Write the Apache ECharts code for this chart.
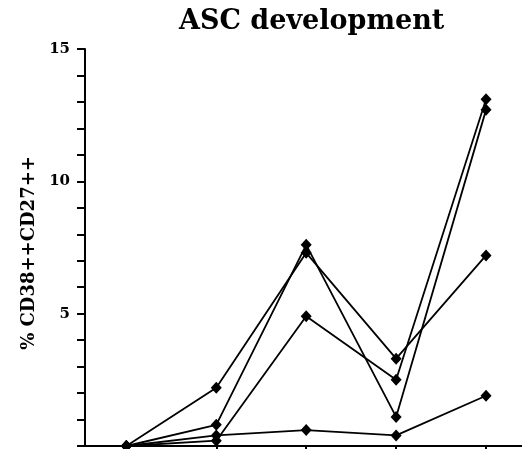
<!DOCTYPE html>
<html>
<head>
<meta charset="utf-8">
<script src="https://cdn.jsdelivr.net/npm/echarts@6/dist/echarts.min.js"></script>
<style>
  html, body { margin: 0; padding: 0; background: #fff; }
  #chart { width: 522px; height: 449px; }
</style>
</head>
<body>
<div id="chart"></div>
<script>
  // time points (x positions, no labels drawn)
  const timePoints = [0, 1, 2, 3, 4];
  // % CD38++CD27++ per subject
  const subjectA = [0, 2.2, 7.3, 3.3, 7.2];
  const subjectB = [0, 0.8, 7.6, 1.1, 12.7];
  const subjectC = [0, 0.2, 4.9, 2.5, 13.1];
  const subjectD = [0, 0.4, 0.6, 0.4, 1.9];
  const yLabels = [5, 10, 15];

  const font = 'DejaVu Serif';

  function makeSeries(name, values) {
    return {
      name: name,
      type: 'line',
      data: timePoints.map((t, i) => [t, values[i]]),
      symbol: 'diamond',
      symbolSize: [11, 12],
      clip: false,
      itemStyle: { color: '#000' },
      lineStyle: { color: '#000', width: 1.8 }
    };
  }

  let myChart = echarts.init(document.getElementById('chart'));
  myChart.setOption({
    animation: false,
    title: {
      text: 'ASC development',
      left: 174,
      top: 3,
      textStyle: {
        fontFamily: font,
        fontWeight: 'bold',
        fontSize: 27,
        color: '#000'
      }
    },
    grid: { left: 85, right: 0, top: 49, bottom: 3 },
    xAxis: {
      type: 'value',
      min: -0.46,
      max: 4.4,
      splitLine: { show: false },
      axisLine: { onZero: false, lineStyle: { color: '#000', width: 2 } },
      axisTick: {
        show: true,
        customValues: timePoints,
        length: 6,
        lineStyle: { color: '#000', width: 2 }
      },
      axisLabel: { show: false }
    },
    yAxis: {
      type: 'value',
      min: 0,
      max: 15,
      interval: 1,
      name: '% CD38++CD27++',
      nameLocation: 'middle',
      nameGap: 46,
      nameTextStyle: {
        fontFamily: font,
        fontWeight: 'bold',
        fontSize: 18,
        color: '#000',
        padding: [0, 11, 0, 0]
      },
      splitLine: { show: false },
      axisLine: { show: true, onZero: false, lineStyle: { color: '#000', width: 2 } },
      axisTick: { show: true, length: 8, lineStyle: { color: '#000', width: 2 } },
      axisLabel: {
        margin: 15,
        fontFamily: font,
        fontWeight: 'bold',
        fontSize: 15,
        color: '#000',
        formatter: v => (yLabels.indexOf(v) >= 0 ? String(v) : '')
      }
    },
    series: [
      makeSeries('A', subjectA),
      makeSeries('B', subjectB),
      makeSeries('C', subjectC),
      makeSeries('D', subjectD)
    ]
  });
</script>
</body>
</html>
